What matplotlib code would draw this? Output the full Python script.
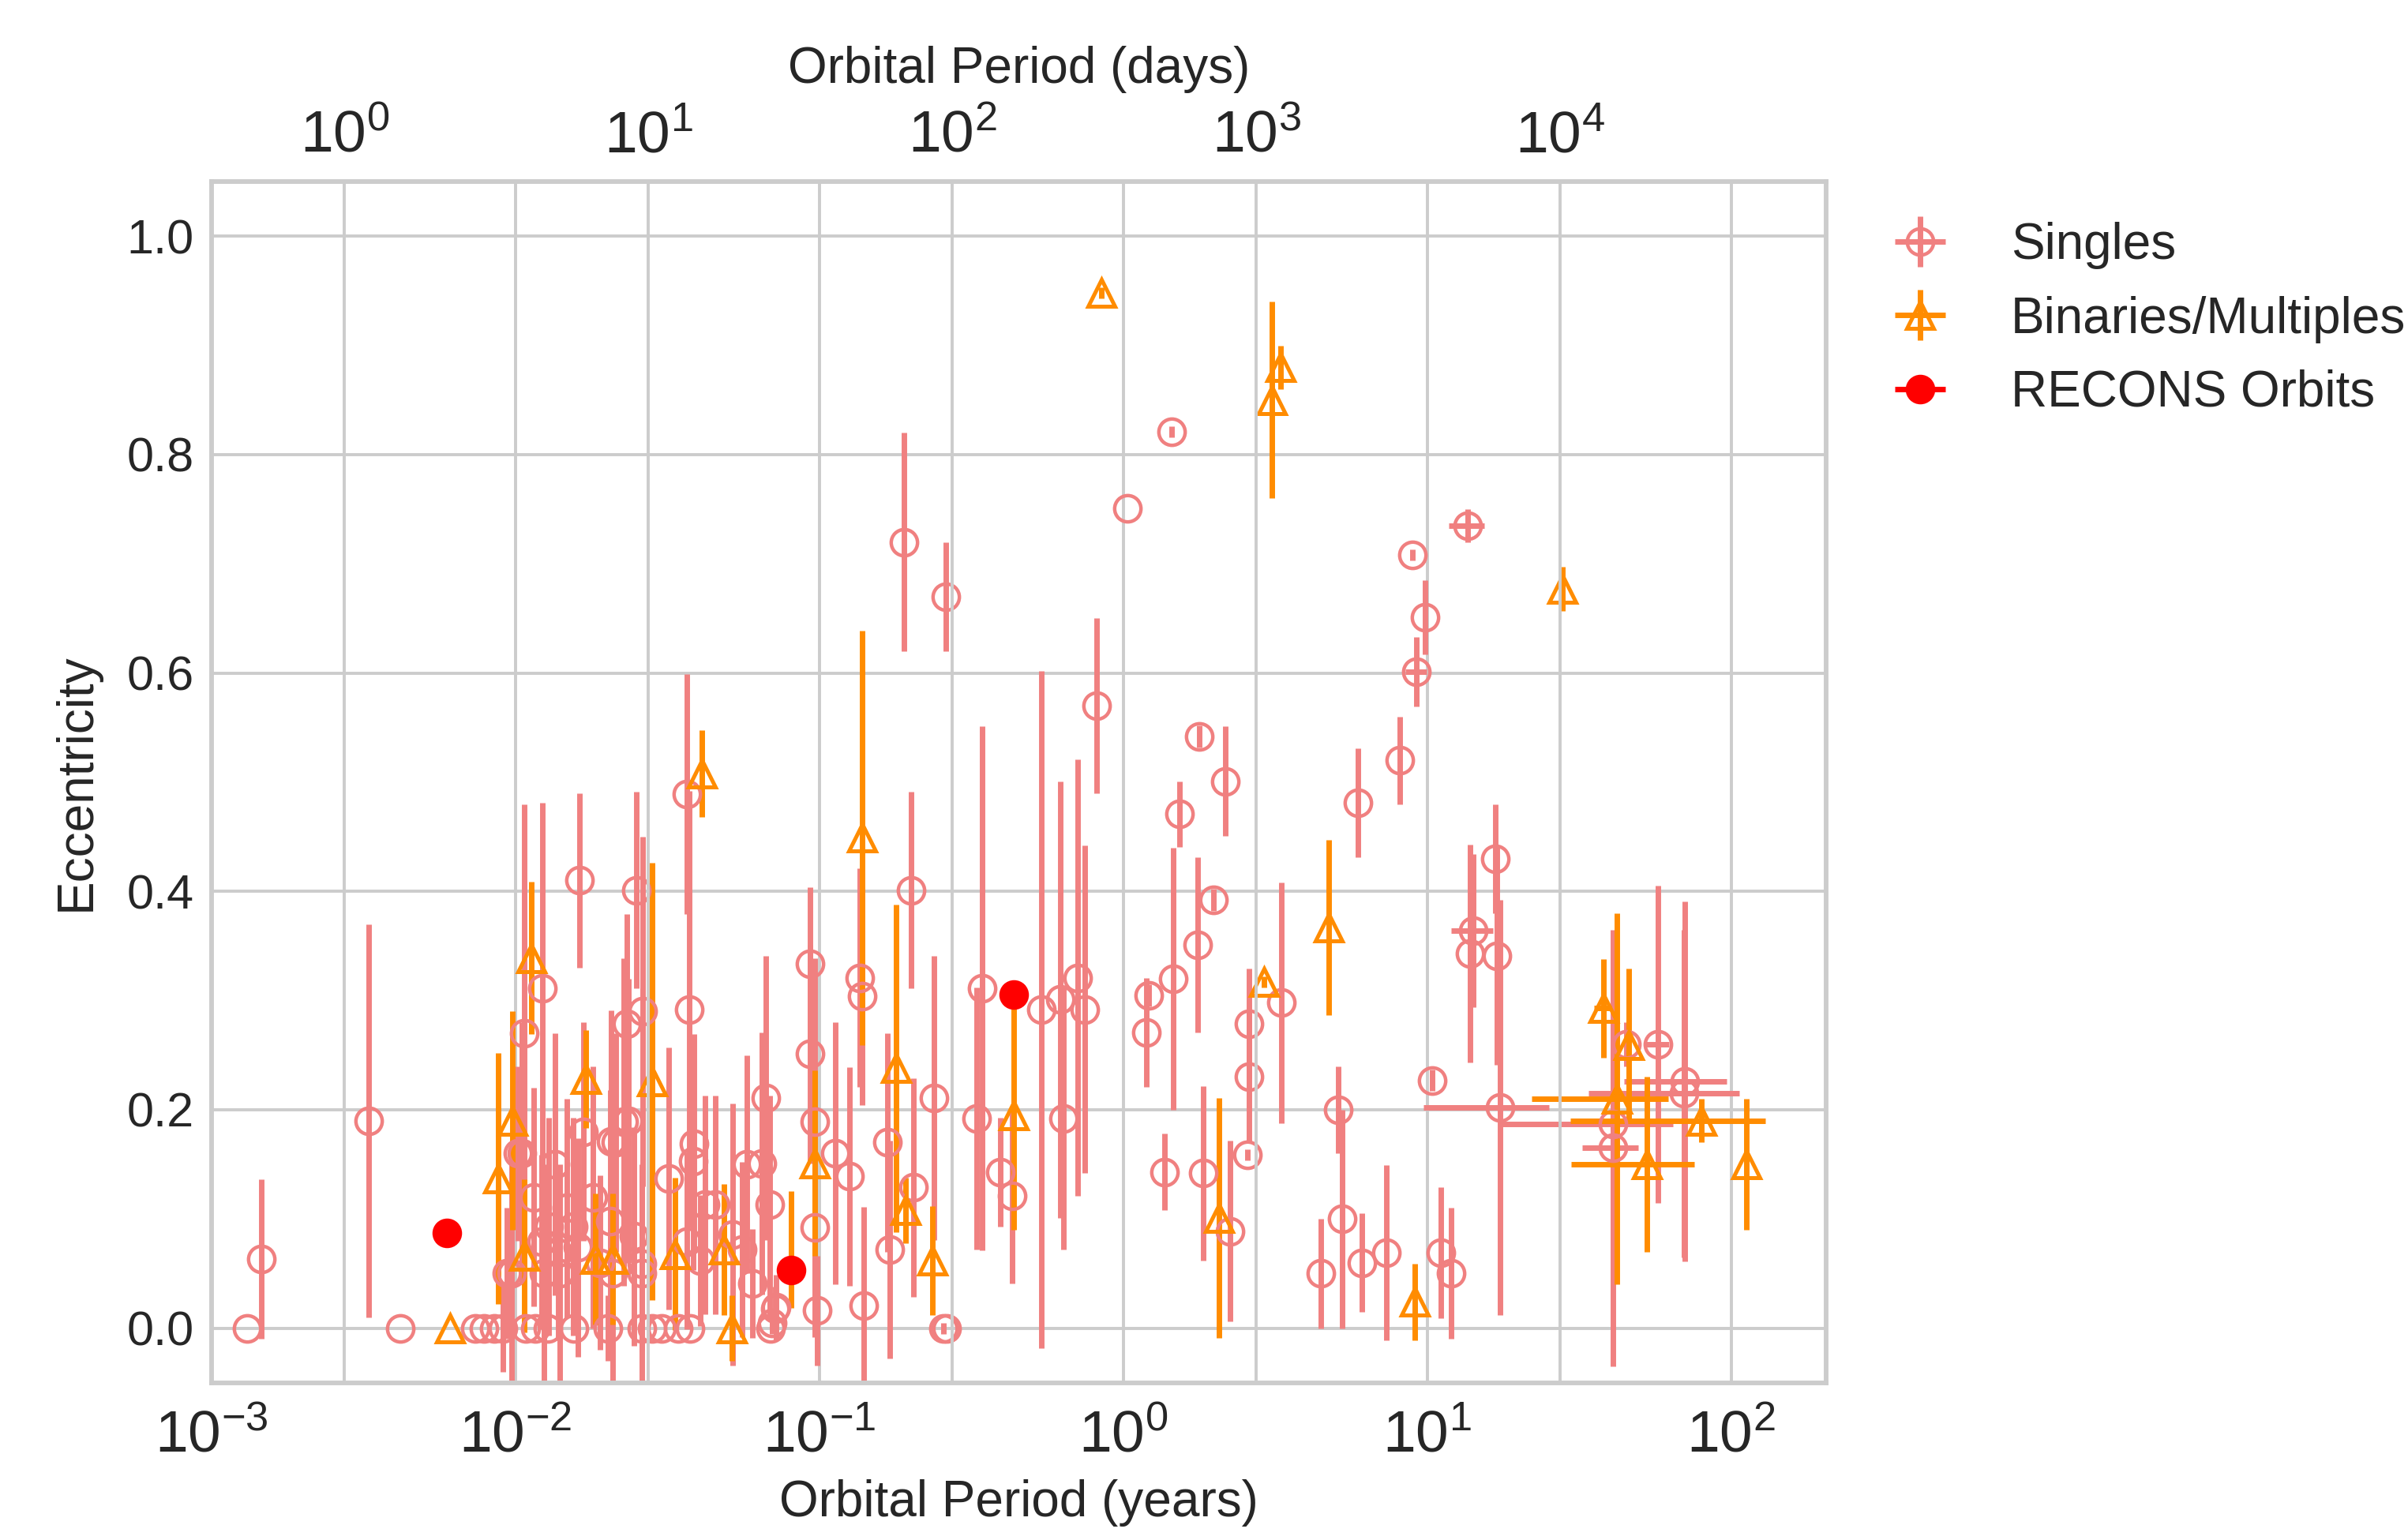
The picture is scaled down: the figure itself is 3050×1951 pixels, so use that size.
import matplotlib
matplotlib.use('Agg')
import matplotlib.pyplot as plt

# singles: period (yr), eccentricity, ecc error, period error
s_period = [0.00131, 0.00146, 0.00329, 0.00418, 0.0074, 0.0079, 0.0085, 0.0091, 0.0108, 0.0116,
            0.0128, 0.0156, 0.0201, 0.026, 0.0282, 0.0302, 0.0344, 0.0376, 0.0693, 0.256,
            0.262, 0.0097, 0.0124, 0.0140, 0.0209, 0.0260, 0.0094, 0.0105, 0.0102, 0.0107,
            0.0123, 0.0163, 0.0250, 0.0263, 0.0233, 0.0373, 0.0366, 0.0167, 0.0207, 0.0227,
            0.0388, 0.0385, 0.0320, 0.0578, 0.0454, 0.0520, 0.0214, 0.0236, 0.0129, 0.0122,
            0.0138, 0.0155, 0.0161, 0.0205, 0.0245, 0.0261, 0.0366, 0.0405, 0.0421, 0.0115,
            0.0135, 0.0148, 0.0180, 0.0190,
            0.0931, 0.0931, 0.0667, 0.0966, 0.113, 0.126, 0.204, 0.0648, 0.0687, 0.0557,
            0.0966, 0.170, 0.140, 0.0984, 0.0722, 0.0603, 0.167, 0.239, 0.330, 0.344,
            0.200, 0.136, 0.138, 0.538, 0.620, 0.709, 0.748, 1.21, 1.19, 1.46,
            1.76, 1.98, 2.59, 2.59, 2.56, 0.637, 0.394, 0.430, 2.24, 1.365,
            1.83, 0.070, 0.0715,
            0.190, 0.261, 0.817, 1.03, 1.44, 1.78, 2.17, 1.53, 5.9, 8.1,
            16.7, 16.9, 17.4, 8.93, 9.84, 9.23, 13.6, 14.2, 13.8, 10.4,
            3.31, 5.08, 5.25, 4.46, 6.10, 7.33, 11.1, 11.97, 40.9, 40.9,
            57.3, 70.5, 70.0, 45.2]
s_ecc = [0.0, 0.063, 0.19, 0.0, 0.0, 0.0, 0.0, 0.0, 0.0, 0.0,
         0.0, 0.0, 0.0, 0.0, 0.0, 0.0, 0.0, 0.0, 0.0, 0.0,
         0.0, 0.05, 0.05, 0.05, 0.05, 0.05, 0.05, 0.16, 0.16, 0.27,
         0.311, 0.41, 0.401, 0.29, 0.279, 0.292, 0.489, 0.18, 0.171, 0.189,
         0.169, 0.153, 0.137, 0.150, 0.113, 0.086, 0.170, 0.190, 0.093, 0.079,
         0.069, 0.093, 0.074, 0.098, 0.084, 0.059, 0.079, 0.062, 0.113, 0.12,
         0.15, 0.11, 0.12, 0.06,
         0.334, 0.251, 0.211, 0.189, 0.160, 0.139, 0.129, 0.151, 0.113, 0.072,
         0.092, 0.072, 0.021, 0.016, 0.019, 0.041, 0.170, 0.211, 0.192, 0.311,
         0.401, 0.321, 0.304, 0.292, 0.301, 0.321, 0.292, 0.305, 0.271, 0.320,
         0.351, 0.392, 0.279, 0.230, 0.159, 0.192, 0.143, 0.121, 0.089, 0.143,
         0.142, 0.005, 0.018,
         0.720, 0.670, 0.570, 0.751, 0.821, 0.542, 0.501, 0.471, 0.481, 0.520,
         0.430, 0.341, 0.202, 0.708, 0.651, 0.601, 0.735, 0.364, 0.343, 0.227,
         0.298, 0.200, 0.100, 0.050, 0.060, 0.069, 0.069, 0.050, 0.187, 0.165,
         0.260, 0.226, 0.215, 0.260]
s_ecc_err = [0.0, 0.073, 0.18, 0.0, 0.0, 0.0, 0.0, 0.04, 0.0, 0.0,
             0.0, 0.0, 0.03, 0.0, 0.0, 0.0, 0.0, 0.0, 0.0, 0.005,
             0.0, 0.10, 0.10, 0.10, 0.10, 0.10, 0.06, 0.12, 0.08, 0.21,
             0.17, 0.08, 0.09, 0.16, 0.10, 0.20, 0.11, 0.10, 0.12, 0.15,
             0.10, 0.10, 0.12, 0.10, 0.10, 0.12, 0.10, 0.13, 0.10, 0.08,
             0.08, 0.10, 0.10, 0.12, 0.10, 0.08, 0.08, 0.06, 0.10, 0.10,
             0.12, 0.10, 0.12, 0.08,
             0.07, 0.10, 0.13, 0.15, 0.12, 0.10, 0.10, 0.12, 0.10, 0.08,
             0.10, 0.10, 0.09, 0.05, 0.03, 0.05, 0.10, 0.13, 0.12, 0.24,
             0.09, 0.10, 0.10, 0.31, 0.20, 0.20, 0.15, 0.01, 0.05, 0.12,
             0.08, 0.01, 0.05, 0.06, 0.005, 0.12, 0.05, 0.08, 0.083, 0.035,
             0.08, 0.01, 0.02,
             0.10, 0.05, 0.08, 0.0, 0.005, 0.01, 0.05, 0.03, 0.05, 0.04,
             0.05, 0.10, 0.19, 0.005, 0.034, 0.032, 0.015, 0.07, 0.10, 0.01,
             0.11, 0.04, 0.10, 0.05, 0.045, 0.08, 0.06, 0.06, 0.01, 0.20,
             0.145, 0.165, 0.15, 0.02]
s_period_err = [0.0] * 119 + [7.7, 0.0, 0.0, 0.75, 1.8, 2.2, 0.0, 0.0,
                              0.0, 0.0, 0.0, 0.0, 0.0, 0.0, 0.0, 0.0, 23.6, 8.5,
                              5.0, 26.0, 36.0, 0.0]

# binaries / multiples
b_period = [0.0061, 0.00877, 0.0098, 0.0107, 0.0113, 0.0171, 0.0282, 0.0183, 0.0209, 0.0335,
            0.0486, 0.0514, 0.0410, 0.0966, 0.138, 0.179, 0.192, 0.235, 0.4356, 0.848,
            3.08, 3.29, 2.90, 2.07, 4.75, 9.08, 27.8, 37.9, 42.0, 45.9,
            52.7, 79.6, 112]
b_ecc = [0.0, 0.137, 0.190, 0.066, 0.339, 0.228, 0.226, 0.063, 0.063, 0.068,
         0.072, 0.0, 0.508, 0.151, 0.449, 0.238, 0.108, 0.062, 0.195, 0.948,
         0.850, 0.880, 0.317, 0.101, 0.367, 0.024, 0.677, 0.293, 0.210, 0.259,
         0.150, 0.190, 0.150]
b_ecc_err = [0.0, 0.115, 0.10, 0.07, 0.07, 0.045, 0.20, 0.06, 0.06, 0.07,
             0.06, 0.03, 0.04, 0.085, 0.19, 0.15, 0.03, 0.05, 0.105, 0.005,
             0.09, 0.02, 0.005, 0.11, 0.08, 0.035, 0.02, 0.045, 0.17, 0.07,
             0.08, 0.02, 0.06]
b_period_err = [0.0] * 27 + [2.5, 20.0, 0.0, 23.0, 50.0, 0.0]

# RECONS orbits
r_period = [0.00595, 0.0807, 0.4356]
r_ecc = [0.087, 0.0535, 0.3055]
r_ecc_lo = [0.0, 0.035, 0.0]
r_ecc_hi = [0.0, 0.072, 0.0]

plt.style.use('seaborn-v0_8-whitegrid')
plt.rcParams['font.family'] = ['Liberation Sans', 'DejaVu Sans']
plt.rcParams['mathtext.fontset'] = 'custom'
plt.rcParams['mathtext.rm'] = 'Liberation Sans'
plt.rcParams['mathtext.it'] = 'Liberation Sans:italic'
plt.rcParams['mathtext.bf'] = 'Liberation Sans:bold'
plt.rcParams['axes.edgecolor'] = '#cccccc'
plt.rcParams['axes.linewidth'] = 2.0
plt.rcParams['grid.color'] = '#cccccc'
plt.rcParams['grid.linewidth'] = 1.4

fig = plt.figure(figsize=(15.25, 9.755), dpi=200)
ax = fig.add_axes([0.0878, 0.1021, 0.6705, 0.7800])

ax.errorbar(s_period, s_ecc, yerr=s_ecc_err, xerr=s_period_err, fmt='o', ms=12,
            mfc='none', mec='lightcoral', mew=1.6, ecolor='lightcoral',
            elinewidth=2.5, label='Singles')
ax.errorbar(b_period, b_ecc, yerr=b_ecc_err, xerr=b_period_err, fmt='^', ms=12,
            mfc='none', mec='darkorange', mew=1.8, ecolor='darkorange',
            elinewidth=2.5, label='Binaries/Multiples')
ax.errorbar(r_period, r_ecc, yerr=[r_ecc_lo, r_ecc_hi], fmt='none',
            ecolor='darkorange', elinewidth=2.5)
ax.errorbar(r_period, r_ecc, xerr=[0, 0, 0], fmt='o', ms=12.5, color='red',
            elinewidth=2.5, label='RECONS Orbits')

ax.set_xscale('log')
ax.set_xlim(1e-3, 205)
ax.set_ylim(-0.05, 1.05)
ax.set_yticks([0.0, 0.2, 0.4, 0.6, 0.8, 1.0])
ax.set_yticklabels(['0.0', '0.2', '0.4', '0.6', '0.8', '1.0'])
ax.tick_params(axis='y', labelsize=22, pad=8)
ax.tick_params(axis='x', labelsize=27, pad=12)
ax.set_xlabel('Orbital Period (years)', fontsize=23, labelpad=7)
ax.set_ylabel('Eccentricity', fontsize=23, labelpad=12)

ax2 = ax.twiny()
ax2.set_xscale('log')
ax2.set_xlim(1e-3 * 365.25, 205 * 365.25)
ax2.tick_params(axis='x', labelsize=27, pad=8)
ax2.set_xlabel('Orbital Period (days)', fontsize=23, labelpad=12)
ax2.grid(True)

ax.legend(loc='upper left', bbox_to_anchor=(1.03, 0.983), borderaxespad=0,
          frameon=False, fontsize=23, handlelength=1.0, handletextpad=1.3,
          labelspacing=0.52)

fig.savefig('out.png', dpi=200)
